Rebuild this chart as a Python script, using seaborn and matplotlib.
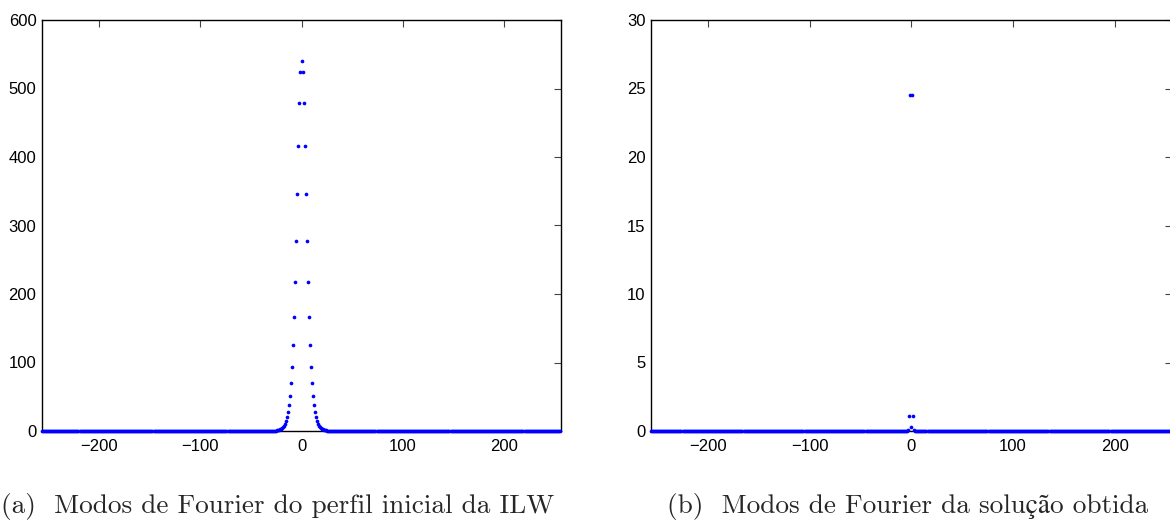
import numpy as np
import pandas as pd
import matplotlib
matplotlib.use("Agg")
import matplotlib.pyplot as plt
import seaborn as sns

# ---- data ----
modes = np.arange(-256, 256)                       # Fourier mode numbers
ilw_half = [540, 524, 479, 416, 346, 278, 217, 167, 126, 94, 69.6, 51, 37.5,
            27.7, 20, 14.6, 10.7, 7.8, 5.7, 4.2, 3.1, 2.2, 1.6, 1.2, 0.9, 0.6,
            0.45, 0.3, 0.2, 0.15, 0.1]            # |k| = 0,1,2,...
sol_half = [0.3, 24.5, 1.1, 0.05]                  # |k| = 0,1,2,3
xticks = [-200, -100, 0, 100, 200]
yticks_a = [0, 100, 200, 300, 400, 500, 600]
yticks_b = [0, 5, 10, 15, 20, 25, 30]
caption_a = "(a)  Modos de Fourier do perfil inicial da ILW"
caption_b = "(b)  Modos de Fourier da solução obtida"


def spectrum(half):
    amp = np.zeros(len(modes))
    for k, v in enumerate(half):
        amp[modes == k] = v
        amp[modes == -k] = v
    return pd.DataFrame({"k": modes, "amp": amp})


df_a = spectrum(ilw_half)
df_b = spectrum(sol_half)

sns.set_theme(style="white")
plt.rcParams["font.family"] = ["Liberation Sans", "DejaVu Sans"]

fig = plt.figure(figsize=(11.7, 5.3), dpi=100)
H = 530.0
W = 1170.0
bottom = (H - 431) / H
height = (431 - 20) / H
ax_a = fig.add_axes([42 / W, bottom, (561 - 42) / W, height])
ax_b = fig.add_axes([651 / W, bottom, (1171.5 - 651) / W, height])

for ax, df, yt, ymax in [(ax_a, df_a, yticks_a, 600), (ax_b, df_b, yticks_b, 30)]:
    sns.scatterplot(data=df, x="k", y="amp", ax=ax, color=(0, 0, 1), s=7,
                    linewidth=0, clip_on=False, zorder=5, legend=False)
    ax.set_xlim(-256, 256)
    ax.set_ylim(0, ymax)
    ax.set_xticks(xticks)
    ax.set_yticks(yt)
    ax.set_xlabel("")
    ax.set_ylabel("")
    ax.tick_params(direction="in", length=5, width=0.8, color="#444444",
                   top=True, right=True, labelsize=12, labelcolor="black")
    ax.tick_params(axis="x", pad=6)
    ax.tick_params(axis="y", pad=4)
    for sp in ax.spines.values():
        sp.set_visible(True)
        sp.set_color("black")
        sp.set_linewidth(1.0)
    ax.set_facecolor("white")

cap_font = ["cmr10", "STIXGeneral", "DejaVu Serif"]
fig.text(278 / W, (H - 507) / H, caption_a, ha="center", va="center",
         fontsize=19.6, family=cap_font)
fig.text(908 / W, (H - 507) / H, caption_b, ha="center", va="center",
         fontsize=19.6, family=cap_font)

fig.savefig("out.png", dpi=100, facecolor="white")
